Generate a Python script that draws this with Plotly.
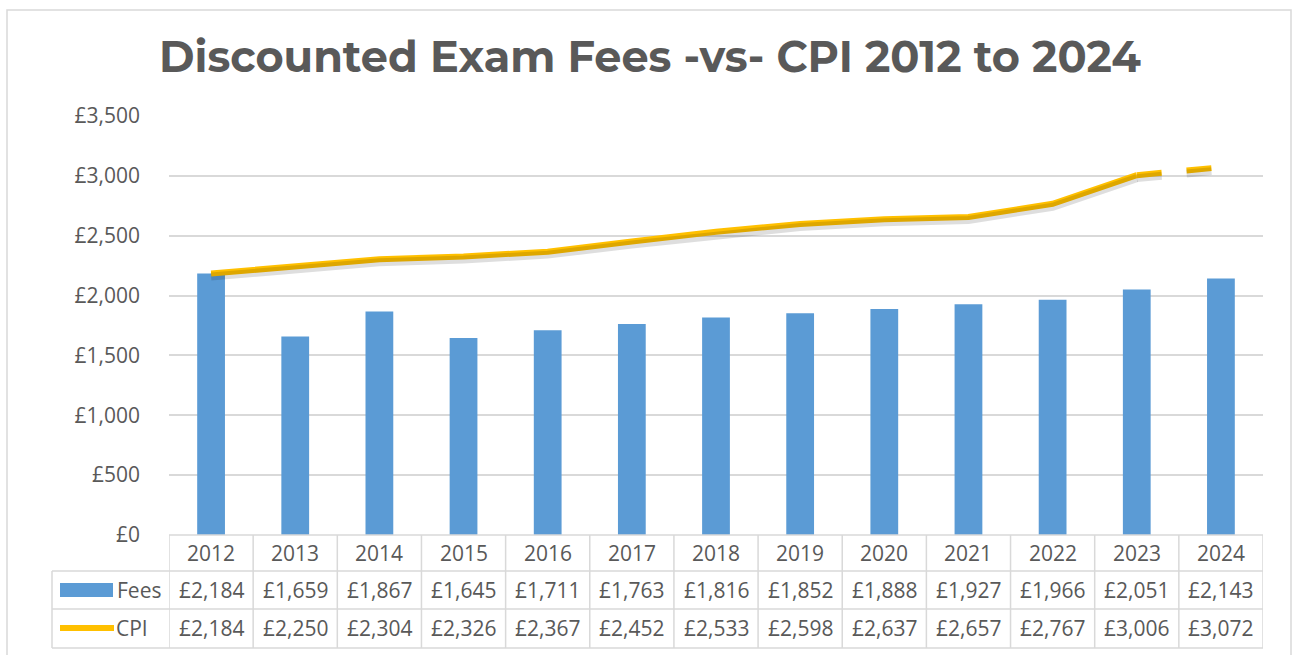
import plotly.graph_objects as go

years = ["2012", "2013", "2014", "2015", "2016", "2017", "2018",
         "2019", "2020", "2021", "2022", "2023", "2024"]
fees = [2184, 1659, 1867, 1645, 1711, 1763, 1816, 1852, 1888, 1927, 1966, 2051, 2143]
cpi = [2184, 2250, 2304, 2326, 2367, 2452, 2533, 2598, 2637, 2657, 2767, 3006, 3072]
y_ticks = [0, 500, 1000, 1500, 2000, 2500, 3000, 3500]
title_text = "Discounted Exam Fees -vs- CPI 2012 to 2024"

W, H = 1293, 655
L, R, T, B = 169, 1263, 116, 535
GRID = "#D9D9D9"
TXT = "#595959"
BLUE = "#5B9BD5"
GOLD = "#FFC000"
SHADOW = "rgba(0,0,0,0.13)"
FONT = "Open Sans"
FS = 21


def px_x(p):
    return (p - L) / (R - L)


def px_y(p):
    return (B - p) / (B - T)


fig = go.Figure()

fig.add_trace(go.Bar(
    x=years, y=fees, name="Fees",
    marker=dict(color=BLUE, line=dict(width=0)),
    width=0.33, showlegend=False, hoverinfo="x+y",
))

# soft shadow under the CPI line (drawn on a slightly shifted overlay axis)
fig.add_trace(go.Scatter(
    x=years[:-1], y=cpi[:-1], mode="lines", yaxis="y2", hoverinfo="skip",
    line=dict(color=SHADOW, width=8), showlegend=False,
))
fig.add_trace(go.Scatter(
    x=years[-2:], y=cpi[-2:], mode="lines", yaxis="y2", hoverinfo="skip",
    line=dict(color=SHADOW, width=8, dash="25px,25px"), showlegend=False,
))

# CPI line, solid for all but the last segment
fig.add_trace(go.Scatter(
    x=years[:-1], y=cpi[:-1], mode="lines", name="CPI",
    line=dict(color=GOLD, width=6), showlegend=False,
))
fig.add_trace(go.Scatter(
    x=years[-2:], y=cpi[-2:], mode="lines", name="CPI",
    line=dict(color=GOLD, width=6, dash="25px,25px"), showlegend=False,
))

shapes = []
# outer border
shapes.append(dict(type="rect", xref="paper", yref="paper",
                   x0=px_x(7), x1=px_x(1291), y0=px_y(665), y1=px_y(10),
                   line=dict(color=GRID, width=1.5), layer="below"))

# table horizontal lines
rows_y = [535, 571, 609, 648]
for i, yy in enumerate(rows_y):
    x0 = L if i == 0 else 52
    shapes.append(dict(type="line", xref="paper", yref="paper",
                       x0=px_x(x0), x1=px_x(R), y0=px_y(yy), y1=px_y(yy),
                       line=dict(color=GRID, width=1.5)))
# table vertical lines (category boundaries)
n = len(years)
for k in range(n + 1):
    shapes.append(dict(type="line", xref="x", yref="paper",
                       x0=k - 0.5, x1=k - 0.5, y0=px_y(535), y1=px_y(648),
                       line=dict(color=GRID, width=1.5)))
# left column border
shapes.append(dict(type="line", xref="paper", yref="paper",
                   x0=px_x(52), x1=px_x(52), y0=px_y(571), y1=px_y(648),
                   line=dict(color=GRID, width=1.5)))

# legend keys
shapes.append(dict(type="rect", xref="paper", yref="paper",
                   x0=px_x(60), x1=px_x(113), y0=px_y(597), y1=px_y(583),
                   fillcolor=BLUE, line=dict(width=0)))
shapes.append(dict(type="line", xref="paper", yref="paper",
                   x0=px_x(60), x1=px_x(114), y0=px_y(628), y1=px_y(628),
                   line=dict(color=GOLD, width=6)))

annotations = []
tfont = dict(family=FONT, size=FS, color=TXT)
for i, yr in enumerate(years):
    annotations.append(dict(x=i, y=px_y(553), xref="x", yref="paper", text=yr,
                            showarrow=False, font=tfont, xanchor="center", yanchor="middle"))
    annotations.append(dict(x=i, y=px_y(590), xref="x", yref="paper", text=f"£{fees[i]:,}",
                            showarrow=False, font=tfont, xanchor="center", yanchor="middle"))
    annotations.append(dict(x=i, y=px_y(628), xref="x", yref="paper", text=f"£{cpi[i]:,}",
                            showarrow=False, font=tfont, xanchor="center", yanchor="middle"))
annotations.append(dict(x=px_x(115), y=px_y(590), xref="paper", yref="paper", text="Fees",
                        showarrow=False, font=tfont, xanchor="left", yanchor="middle"))
annotations.append(dict(x=px_x(114), y=px_y(628), xref="paper", yref="paper", text="CPI",
                        showarrow=False, font=tfont, xanchor="left", yanchor="middle"))

fig.update_layout(
    width=W, height=H,
    margin=dict(l=L, r=W - R, t=T, b=H - B, pad=0),
    paper_bgcolor="white", plot_bgcolor="white",
    title=dict(text=title_text, x=650 / W, xanchor="center", xref="container",
               y=1 - 57 / H, yanchor="middle", yref="container",
               font=dict(family="Montserrat, Inter, sans-serif", size=43, color=TXT, weight=700)),
    xaxis=dict(type="category", range=[-0.5, n - 0.5], showticklabels=False,
               showgrid=False, zeroline=False, showline=False, ticks=""),
    yaxis=dict(range=[0, 3500], tickvals=y_ticks, ticktext=[f"£{v:,}" for v in y_ticks],
               showgrid=True, gridcolor=GRID, gridwidth=1.5, zeroline=False,
               showline=False, ticks="", ticklabelstandoff=28,
               tickfont=dict(family=FONT, size=FS, color=TXT)),
    yaxis2=dict(range=[25, 3525], overlaying="y", visible=False, showgrid=False),
    shapes=shapes, annotations=annotations, bargap=0.67,
    separators=".,", showlegend=False,
)

fig.write_html("out.html", config={"displayModeBar": False},
               post_script="document.body.style.margin='0';document.body.style.overflow='hidden';")
